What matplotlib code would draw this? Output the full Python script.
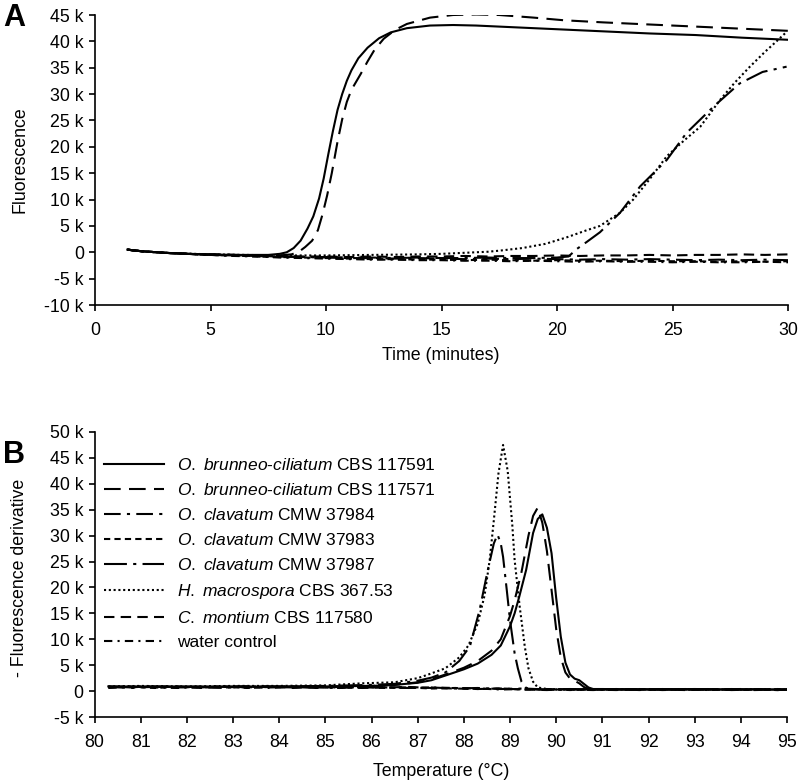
import matplotlib
matplotlib.use("Agg")
import matplotlib.pyplot as plt

plt.rcParams['font.family'] = ['Liberation Sans', 'DejaVu Sans']
plt.rcParams['mathtext.fontset'] = 'custom'
plt.rcParams['mathtext.rm'] = 'Liberation Sans'
plt.rcParams['mathtext.it'] = 'Liberation Sans:italic'

# ---------------- Data: panel A (amplification) ----------------
labels = [r"$\it{O.\ brunneo}$-$\it{ciliatum}$ CBS 117591",
          r"$\it{O.\ brunneo}$-$\it{ciliatum}$ CBS 117571",
          r"$\it{O.\ clavatum}$ CMW 37984",
          r"$\it{O.\ clavatum}$ CMW 37983",
          r"$\it{O.\ clavatum}$ CMW 37987",
          r"$\it{H.\ macrospora}$ CBS 367.53",
          r"$\it{C.\ montium}$ CBS 117580",
          "water control"]

a_t_s1 = [1.4, 2, 3, 4, 5, 6, 7, 7.5, 8.0, 8.3, 8.6, 8.9, 9.2, 9.45, 9.7, 9.9, 10.1, 10.3, 10.5,
          10.7, 10.9, 11.1, 11.4, 11.8, 12.3, 12.8, 13.5, 14.5, 15.5, 16.5, 18, 20, 22, 24, 26,
          28, 30]
a_v_s1 = [0.5, 0.2, -0.1, -0.3, -0.4, -0.5, -0.5, -0.5, -0.3, 0.0, 0.8, 2.2, 4.5, 6.8, 10.2, 14.0,
          18.6, 23.0, 27.0, 30.0, 32.5, 34.5, 36.8, 38.8, 40.6, 41.7, 42.5, 43.0, 43.1, 43.0,
          42.7, 42.3, 41.9, 41.5, 41.2, 40.7, 40.3]

a_t_s2 = [1.4, 2, 3, 4, 5, 6, 7, 8, 8.5, 8.8, 9.1, 9.4, 9.65, 9.85, 10.05, 10.25, 10.5, 10.7,
          10.9, 11.1, 11.5, 11.8, 12.1, 12.5, 13.0, 13.5, 14.5, 15.5, 16.5, 17.5, 19, 20.3, 22,
          24, 26, 28, 30]
a_v_s2 = [0.5, 0.2, -0.1, -0.3, -0.4, -0.5, -0.6, -0.6, -0.4, 0.0, 1.0, 2.2, 4.2, 7.2, 10.8, 15.0,
          21.0, 25.2, 28.5, 30.8, 33.8, 36.2, 38.4, 40.5, 42.2, 43.3, 44.5, 45.0, 45.1, 45.0,
          44.5, 44.0, 43.6, 43.2, 42.8, 42.4, 42.0]

a_t_flat = [1.4, 2, 3, 4, 5, 6, 7, 8, 9, 10, 11, 12, 13, 14, 15, 16, 17, 18, 19, 20, 21, 22, 23,
            24, 25, 26, 27, 28, 29, 30]
a_v_s3 = [0.5, 0.2, -0.1, -0.3, -0.5, -0.6, -0.7, -0.8, -0.9, -1.0, -1.1, -1.1, -1.2, -1.1, -1.2,
          -1.3, -1.2, -1.3, -1.2, -1.3, -1.4, -1.3, -1.4, -1.3, -1.4, -1.5, -1.4, -1.5, -1.4, -1.5]
a_v_s4 = [0.5, 0.2, -0.1, -0.3, -0.5, -0.6, -0.8, -0.9, -1.0, -1.1, -1.2, -1.3, -1.3, -1.4, -1.4,
          -1.5, -1.4, -1.5, -1.6, -1.5, -1.6, -1.6, -1.7, -1.6, -1.7, -1.7, -1.8, -1.7, -1.8, -1.7]
a_v_s7 = [0.5, 0.2, -0.1, -0.3, -0.4, -0.5, -0.6, -0.7, -0.8, -0.8, -0.9, -0.8, -0.9, -0.8, -0.8,
          -0.7, -0.8, -0.7, -0.7, -0.6, -0.7, -0.6, -0.6, -0.5, -0.6, -0.5, -0.5, -0.4, -0.5, -0.4]
a_v_s8 = [0.5, 0.2, -0.1, -0.3, -0.5, -0.7, -0.8, -1.0, -1.1, -1.2, -1.3, -1.4, -1.4, -1.5, -1.5,
          -1.6, -1.6, -1.7, -1.6, -1.7, -1.8, -1.7, -1.8, -1.8, -1.9, -1.8, -1.9, -1.9, -1.8, -1.9]

a_t_s5 = [1.4, 2, 3, 4, 5, 6, 7, 8, 9, 10, 11, 12, 13, 14, 15, 16, 17, 18, 19, 20, 20.5, 20.85,
          21.3, 21.86, 22.73, 23.6, 24.75, 25.6, 26.77, 27.9, 28.9, 29.94]
a_v_s5 = [0.5, 0.2, -0.1, -0.3, -0.5, -0.6, -0.7, -0.8, -0.9, -0.9, -1.0, -1.0, -1.1, -1.0, -1.1,
          -1.1, -1.0, -1.1, -1.1, -1.0, -0.8, 0.6, 2.0, 3.8, 7.5, 12.5, 17.5, 22.6, 27.6, 32.0,
          34.2, 35.2]

a_t_s6 = [1.4, 2, 3, 5, 8, 10, 12, 14, 15, 16, 17, 17.5, 18.5, 19.5, 20.4, 21.3, 21.86, 22.73,
          23.3, 24.0, 24.75, 25.5, 26.2, 27.06, 27.7, 28.35, 29.0, 29.5, 29.94]
a_v_s6 = [0.5, 0.2, -0.1, -0.4, -0.6, -0.6, -0.5, -0.4, -0.3, -0.1, 0.1, 0.3, 0.8, 1.6, 2.8, 4.2,
          5.0, 7.5, 10.0, 13.8, 18.2, 21.2, 23.8, 28.9, 32.2, 35.2, 38.0, 40.0, 41.8]

# ---------------- Data: panel B (melt curves) ----------------
b_t_s1 = [80.3, 81, 82, 83, 84, 85, 86, 86.5, 87, 87.3, 87.6, 88.0, 88.3, 88.6, 88.8, 89.0, 89.1,
          89.2, 89.35, 89.5, 89.6, 89.7, 89.8, 89.9, 90.0, 90.1, 90.2, 90.3, 90.4, 90.5, 90.6,
          90.7, 90.8, 91, 92, 93, 94, 95]
b_v_s1 = [0.9, 0.8, 0.9, 0.8, 0.9, 0.9, 1.0, 1.2, 1.6, 2.1, 3.0, 4.2, 5.3, 7.0, 8.8, 12.5, 15.0,
          18.2, 23.4, 30.5, 33.2, 34.1, 31.5, 26.6, 18.0, 10.5, 5.5, 3.2, 2.4, 2.1, 1.4, 0.7, 0.4,
          0.4, 0.3, 0.4, 0.3, 0.3]

b_t_s2 = [80.3, 81, 82, 83, 84, 85, 86, 86.5, 87, 87.3, 87.6, 88.0, 88.3, 88.6, 88.8, 89.0, 89.1,
          89.25, 89.4, 89.5, 89.6, 89.7, 89.8, 89.9, 90.0, 90.1, 90.2, 90.3, 90.4, 90.5, 90.6,
          90.7, 91, 92, 93, 94, 95]
b_v_s2 = [0.8, 0.9, 0.8, 0.9, 0.8, 0.9, 1.0, 1.2, 1.7, 2.3, 3.2, 4.5, 5.8, 7.8, 10.0, 14.5, 17.5,
          23.0, 30.0, 33.8, 35.4, 32.5, 27.0, 19.5, 12.0, 6.5, 3.6, 2.4, 2.0, 1.5, 0.8, 0.4, 0.3,
          0.4, 0.3, 0.4, 0.3]

b_t_s6 = [80.3, 81, 82, 83, 84, 85, 85.8, 86.5, 87.0, 87.2, 87.6, 87.9, 88.1, 88.3, 88.45, 88.56,
          88.65, 88.75, 88.85, 88.95, 89.05, 89.1, 89.21, 89.32, 89.4, 89.5, 89.6, 89.8, 90.5, 91,
          92, 93, 94, 95]
b_v_s6 = [0.9, 1.0, 0.9, 1.0, 1.0, 1.1, 1.5, 1.7, 2.5, 3.1, 4.4, 6.5, 8.8, 13.0, 18.5, 25.3, 33.0,
          42.0, 47.5, 42.5, 32.0, 25.3, 16.3, 8.6, 4.4, 1.8, 0.7, 0.4, 0.3, 0.3, 0.3, 0.3, 0.3, 0.3]

b_t_s5 = [80.3, 81, 82, 83, 84, 85, 86, 86.5, 87.0, 87.3, 87.6, 87.9, 88.13, 88.34, 88.52, 88.65,
          88.73, 88.8, 88.85, 88.93, 89.0, 89.1, 89.17, 89.25, 89.35, 89.6, 90, 91, 92, 93, 94, 95]
b_v_s5 = [0.8, 0.9, 0.8, 0.9, 0.9, 1.0, 1.2, 1.4, 2.0, 2.6, 3.6, 5.8, 8.6, 15.6, 23.4, 28.5, 30.2,
          28.5, 25.9, 19.5, 13.7, 7.3, 4.4, 1.8, 0.6, 0.3, 0.3, 0.3, 0.3, 0.3, 0.3, 0.3]

b_t_flat = [80.3, 80.8, 81.3, 81.8, 82.3, 82.8, 83.3, 83.8, 84.3, 84.8, 85.3, 85.8, 86.3, 86.8,
            87.3, 87.8, 88.3, 88.8, 89.3, 89.8, 90.3, 90.8, 91.3, 91.8, 92.3, 92.8, 93.3, 93.8,
            94.3, 94.8, 95.0]
b_v_s3 = [0.8, 0.6, 0.9, 0.7, 0.8, 0.6, 0.9, 0.7, 0.8, 0.6, 0.8, 0.7, 0.8, 0.6, 0.7, 0.5, 0.6,
          0.4, 0.5, 0.3, 0.4, 0.3, 0.4, 0.2, 0.4, 0.3, 0.4, 0.2, 0.3, 0.4, 0.3]
b_v_s4 = [0.7, 0.9, 0.6, 0.8, 0.7, 0.9, 0.6, 0.8, 0.7, 0.9, 0.6, 0.8, 0.6, 0.7, 0.5, 0.6, 0.4,
          0.5, 0.3, 0.4, 0.2, 0.4, 0.3, 0.4, 0.2, 0.3, 0.4, 0.3, 0.2, 0.3, 0.3]
b_v_s7 = [0.9, 0.7, 0.8, 0.9, 0.6, 0.8, 0.7, 0.9, 0.6, 0.8, 0.7, 0.6, 0.7, 0.8, 0.6, 0.5, 0.4,
          0.5, 0.3, 0.2, 0.4, 0.3, 0.2, 0.4, 0.3, 0.2, 0.3, 0.4, 0.3, 0.2, 0.3]
b_v_s8 = [0.6, 0.8, 0.7, 0.6, 0.8, 0.7, 0.8, 0.6, 0.9, 0.7, 0.6, 0.8, 0.7, 0.6, 0.7, 0.6, 0.5,
          0.3, 0.4, 0.3, 0.3, 0.2, 0.4, 0.3, 0.3, 0.4, 0.2, 0.3, 0.3, 0.2, 0.3]

a_xticks = [0, 5, 10, 15, 20, 25, 30]
a_yticks = [-10, -5, 0, 5, 10, 15, 20, 25, 30, 35, 40, 45]
a_ylabels = ["-10 k", "-5 k", "0", "5 k", "10 k", "15 k", "20 k", "25 k", "30 k", "35 k",
             "40 k", "45 k"]
b_xticks = list(range(80, 96))
b_yticks = [-5, 0, 5, 10, 15, 20, 25, 30, 35, 40, 45, 50]
b_ylabels = ["-5 k", "0", "5 k", "10 k", "15 k", "20 k", "25 k", "30 k", "35 k", "40 k",
             "45 k", "50 k"]

styles = ['-', (0, (8, 4)), (0, (8, 3, 1.5, 3)), (0, (3, 2)), (0, (11, 3, 1.5, 3)),
          (0, (1, 1.3)), (0, (5, 3)), (0, (4, 2.5, 1, 2.5))]

fig = plt.figure(figsize=(8, 7.83), dpi=100)
fs = 12.8
lfs = 12.5
lw = 1.5

axA = fig.add_axes([95 / 800, 1 - 305 / 783, 693 / 800, 290 / 783])
axB = fig.add_axes([94.5 / 800, 1 - 717 / 783, 692.5 / 800, 285 / 783])

a_series = [(a_t_s1, a_v_s1), (a_t_s2, a_v_s2), (a_t_flat, a_v_s3), (a_t_flat, a_v_s4),
            (a_t_s5, a_v_s5), (a_t_s6, a_v_s6), (a_t_flat, a_v_s7), (a_t_flat, a_v_s8)]
b_series = [(b_t_s1, b_v_s1), (b_t_s2, b_v_s2), (b_t_flat, b_v_s3), (b_t_flat, b_v_s4),
            (b_t_s5, b_v_s5), (b_t_s6, b_v_s6), (b_t_flat, b_v_s7), (b_t_flat, b_v_s8)]

for (x, y), ls in zip(a_series, styles):
    axA.plot(x, y, color='black', lw=lw, ls=ls)
handles = []
for (x, y), ls, lab in zip(b_series, styles, labels):
    h, = axB.plot(x, y, color='black', lw=lw, ls=ls, label=lab)
    handles.append(h)

axA.set_xlim(0, 30)
axA.set_ylim(-10, 45)
axA.set_xticks(a_xticks)
axA.set_xticklabels([str(v) for v in a_xticks])
axA.set_yticks(a_yticks)
axA.set_yticklabels(a_ylabels)

axB.set_xlim(80, 95)
axB.set_ylim(-5, 50)
axB.set_xticks(b_xticks)
axB.set_xticklabels([str(v) for v in b_xticks])
axB.set_yticks(b_yticks)
axB.set_yticklabels(b_ylabels)

for ax in (axA, axB):
    for s in ('top', 'right'):
        ax.spines[s].set_visible(False)
    for s in ('left', 'bottom'):
        ax.spines[s].set_linewidth(1.2)
    ax.tick_params(direction='out', length=4, width=1.2, labelsize=fs, pad=4)
    ax.tick_params(axis='x', pad=8)

fig.text(20 / 800, 1 - 160 / 783, "Fluorescence", rotation=90, ha='center', va='center',
         fontsize=fs)
fig.text(20 / 800, 1 - 578 / 783, "- Fluorescence derivative", rotation=90, ha='center',
         va='center', fontsize=fs)
fig.text(441 / 800, 1 - 355 / 783, "Time (minutes)", ha='center', va='center', fontsize=fs)
fig.text(441 / 800, 1 - 771 / 783, "Temperature (°C)", ha='center', va='center', fontsize=fs)
fig.text(3 / 800, 1 - 18 / 783, "A", ha='left', va='center', fontsize=22, fontweight='bold')
fig.text(3 / 800, 1 - 455 / 783, "B", ha='left', va='center', fontsize=22, fontweight='bold')

axB.legend(handles=handles, loc='upper left', bbox_to_anchor=(104 / 800, 1 - 457 / 783),
           bbox_transform=fig.transFigure, frameon=False, fontsize=lfs, handlelength=3.45,
           handletextpad=0.75, labelspacing=0.52, borderpad=0, borderaxespad=0)

fig.savefig("out.png", dpi=100)
